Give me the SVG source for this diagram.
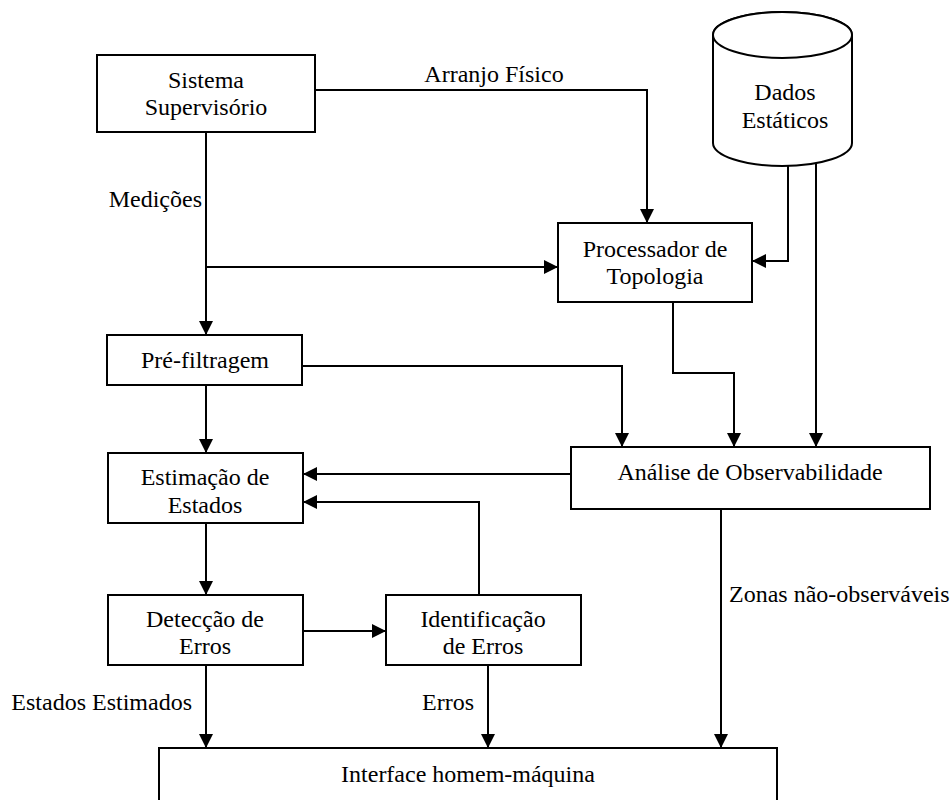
<svg xmlns="http://www.w3.org/2000/svg" width="952" height="800" viewBox="0 0 952 800">
  <style>
    .box { fill: #fff; stroke: #000; stroke-width: 2; }
    .lbl { font-family: "Liberation Serif", "Times New Roman", serif; font-size: 24px; fill: #000; }
    .mid { text-anchor: middle; }
    .wire { fill: none; stroke: #000; stroke-width: 2; }
  </style>
  <defs>
    <marker id="arrow" markerUnits="userSpaceOnUse" markerWidth="14" markerHeight="14" refX="13" refY="7" orient="auto">
      <path d="M0,0 L14,7 L0,14 z" fill="#000"/>
    </marker>
  </defs>
  <rect width="952" height="800" fill="#fff"/>

  <g id="connectors">
    <!-- physical layout to topology processor -->
    <polyline class="wire" points="315,90 647,90 647,222" marker-end="url(#arrow)"/>
    <!-- measurements down to pre-filtering -->
    <polyline class="wire" points="206,132 206,334" marker-end="url(#arrow)"/>
    <polyline class="wire" points="206,267 557,267" marker-end="url(#arrow)"/>
    <!-- static data -->
    <polyline class="wire" points="788,165 788,261 753,261" marker-end="url(#arrow)"/>
    <polyline class="wire" points="816,163 816,446" marker-end="url(#arrow)"/>
    <!-- topology to observability -->
    <polyline class="wire" points="673,302 673,373 734,373 734,446" marker-end="url(#arrow)"/>
    <!-- pre-filtering to observability -->
    <polyline class="wire" points="302,366 622,366 622,446" marker-end="url(#arrow)"/>
    <!-- observability to state estimation -->
    <polyline class="wire" points="571,474 304,474" marker-end="url(#arrow)"/>
    <!-- error identification feedback -->
    <polyline class="wire" points="479,595 479,502 304,502" marker-end="url(#arrow)"/>
    <!-- pre-filtering to state estimation -->
    <polyline class="wire" points="206,385 206,452" marker-end="url(#arrow)"/>
    <!-- state estimation to error detection -->
    <polyline class="wire" points="206,523 206,594" marker-end="url(#arrow)"/>
    <!-- detection to identification -->
    <polyline class="wire" points="303,631 385,631" marker-end="url(#arrow)"/>
    <!-- outputs to HMI -->
    <polyline class="wire" points="206,665 206,747" marker-end="url(#arrow)"/>
    <polyline class="wire" points="488,665 488,747" marker-end="url(#arrow)"/>
    <polyline class="wire" points="721,509 721,747" marker-end="url(#arrow)"/>

    <text class="lbl mid" x="494" y="82">Arranjo Físico</text>
    <text class="lbl" x="202" y="207" text-anchor="end">Medições</text>
    <text class="lbl" x="729" y="602">Zonas não-observáveis</text>
    <text class="lbl" x="192" y="710" text-anchor="end">Estados Estimados</text>
    <text class="lbl" x="474" y="710" text-anchor="end">Erros</text>
  </g>

  <g id="sistema-supervisorio">
    <rect class="box" x="97" y="55" width="218" height="77"/>
    <text class="lbl mid" x="206" y="88">Sistema</text>
    <text class="lbl mid" x="206" y="115">Supervisório</text>
  </g>

  <g id="dados-estaticos">
    <path class="box" d="M713,35 L713,143 A69.5,23 0 0 0 852,143 L852,35 A69.5,23 0 0 0 713,35 Z"/>
    <ellipse class="box" cx="782.5" cy="35" rx="69.5" ry="23"/>
    <text class="lbl mid" x="785" y="100">Dados</text>
    <text class="lbl mid" x="785" y="128">Estáticos</text>
  </g>

  <g id="processador-topologia">
    <rect class="box" x="558" y="223" width="194" height="79"/>
    <text class="lbl mid" x="655" y="257">Processador de</text>
    <text class="lbl mid" x="655" y="284">Topologia</text>
  </g>

  <g id="pre-filtragem">
    <rect class="box" x="107" y="335" width="195" height="50"/>
    <text class="lbl mid" x="205" y="368">Pré-filtragem</text>
  </g>

  <g id="estimacao-estados">
    <rect class="box" x="108" y="453" width="195" height="70"/>
    <text class="lbl mid" x="205" y="485">Estimação de</text>
    <text class="lbl mid" x="205" y="513">Estados</text>
  </g>

  <g id="analise-observabilidade">
    <rect class="box" x="571" y="447" width="359" height="62"/>
    <text class="lbl mid" x="750" y="480">Análise de Observabilidade</text>
  </g>

  <g id="deteccao-erros">
    <rect class="box" x="108" y="595" width="195" height="70"/>
    <text class="lbl mid" x="205" y="627">Detecção de</text>
    <text class="lbl mid" x="205" y="654">Erros</text>
  </g>

  <g id="identificacao-erros">
    <rect class="box" x="386" y="595" width="195" height="70"/>
    <text class="lbl mid" x="483" y="627">Identificação</text>
    <text class="lbl mid" x="483" y="654">de Erros</text>
  </g>

  <g id="interface-homem-maquina">
    <rect class="box" x="159" y="748" width="618" height="70"/>
    <text class="lbl mid" x="468" y="782">Interface homem-máquina</text>
  </g>
</svg>
